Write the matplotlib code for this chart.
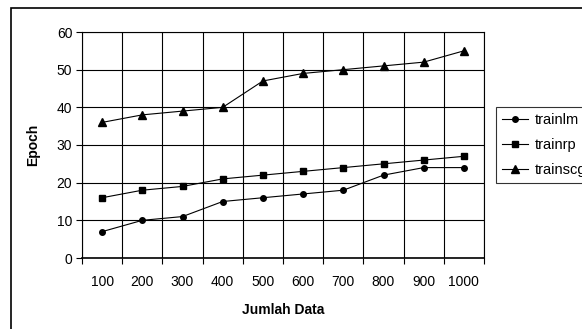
import numpy as np
import matplotlib
matplotlib.use("Agg")
import matplotlib.pyplot as plt
from matplotlib.patches import Rectangle

plt.rcParams['font.family'] = ['Liberation Sans', 'DejaVu Sans']

# ---- data ------------------------------------------------------------
categories = ["100", "200", "300", "400", "500", "600", "700", "800", "900", "1000"]
trainlm = [7, 10, 11, 15, 16, 17, 18, 22, 24, 24]
trainrp = [16, 18, 19, 21, 22, 23, 24, 25, 26, 27]
trainscg = [36, 38, 39, 40, 47, 49, 50, 51, 52, 55]

W, H = 582, 329
fig = plt.figure(figsize=(W / 100, H / 100), dpi=100)
fig.patch.set_facecolor("white")

# outer chart frame (runs off the right/bottom of the image)
fig.patches.append(Rectangle((11 / W, -0.1), 1.2, 1 - 8 / H + 0.1,
                             transform=fig.transFigure, fill=False,
                             edgecolor="black", linewidth=1.2, clip_on=False))

ax = fig.add_axes([82 / W, 1 - 258 / H, (484 - 82) / W, (258 - 32) / H])
x = np.arange(len(categories))

ax.plot(x, trainlm, color="black", lw=0.8, marker="o", ms=4, label="trainlm")
ax.plot(x, trainrp, color="black", lw=0.8, marker="s", ms=4, label="trainrp")
ax.plot(x, trainscg, color="black", lw=0.8, marker="^", ms=5.5, label="trainscg")

ax.set_xlim(-0.5, len(categories) - 0.5)
ax.set_ylim(0, 60)
ax.set_yticks(np.arange(0, 61, 10))
ax.set_xticks(x)
ax.set_xticklabels(categories)
ax.set_xticks(np.arange(-0.5, len(categories), 1), minor=True)

ax.grid(which="minor", axis="x", color="black", linewidth=0.8)
ax.grid(which="major", axis="y", color="black", linewidth=0.8)
ax.grid(which="major", axis="x", visible=False)
ax.set_axisbelow(True)

ax.tick_params(axis="x", which="major", length=0, pad=12, labelsize=10)
ax.tick_params(axis="x", which="minor", length=4, width=0.8, direction="out")
ax.tick_params(axis="y", length=4, width=0.8, direction="out", labelsize=10, pad=3)
for s in ax.spines.values():
    s.set_linewidth(0.8)
ax.spines["bottom"].set_linewidth(1.2)

ax.set_xlabel("Jumlah Data", fontsize=10, fontweight="bold", labelpad=10)
ax.set_ylabel("Epoch", fontsize=10, fontweight="bold", labelpad=12)

leg = ax.legend(loc="upper left", bbox_to_anchor=(496 / W, 1 - 107 / H),
                bbox_transform=fig.transFigure, frameon=True, fancybox=False,
                edgecolor="black", fontsize=10.5, handlelength=1.8,
                handletextpad=0.45, borderpad=0.4, labelspacing=0.75,
                borderaxespad=0)
leg.get_frame().set_linewidth(0.8)

fig.savefig("out.png", dpi=100)
